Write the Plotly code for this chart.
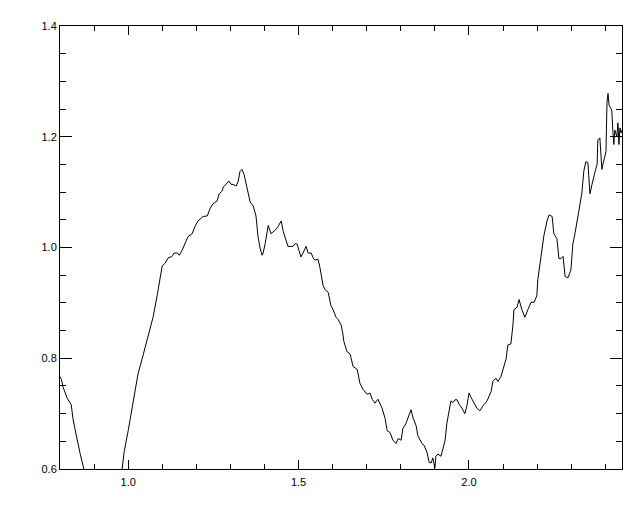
import plotly.graph_objects as go

x_vals = [
    0.800, 0.804, 0.809, 0.815, 0.821, 0.833, 0.838, 0.845, 0.850, 0.859,
    0.868, 0.874, 0.903, 0.933, 0.962, 0.977, 0.982, 0.988, 1.000, 1.012,
    1.021, 1.029, 1.044, 1.056, 1.073, 1.085, 1.094, 1.100, 1.109, 1.117,
    1.129, 1.135, 1.144, 1.150, 1.158, 1.167, 1.176, 1.188, 1.196, 1.205,
    1.220, 1.232, 1.240, 1.249, 1.261, 1.267, 1.276, 1.279, 1.287, 1.296,
    1.302, 1.308, 1.317, 1.323, 1.328, 1.334, 1.340, 1.349, 1.358, 1.367,
    1.375, 1.381, 1.387, 1.393, 1.396, 1.402, 1.408, 1.411, 1.419, 1.431,
    1.440, 1.449, 1.455, 1.463, 1.469, 1.475, 1.484, 1.490, 1.496, 1.501,
    1.507, 1.513, 1.522, 1.528, 1.537, 1.543, 1.548, 1.557, 1.563, 1.572,
    1.578, 1.587, 1.595, 1.601, 1.610, 1.616, 1.625, 1.630, 1.633, 1.642,
    1.651, 1.660, 1.672, 1.680, 1.689, 1.701, 1.710, 1.716, 1.724, 1.733,
    1.745, 1.754, 1.760, 1.768, 1.777, 1.786, 1.792, 1.801, 1.806, 1.815,
    1.821, 1.830, 1.836, 1.845, 1.850, 1.862, 1.868, 1.877, 1.883, 1.889,
    1.894, 1.900, 1.903, 1.909, 1.918, 1.924, 1.930, 1.935, 1.941, 1.947,
    1.953, 1.959, 1.965, 1.971, 1.979, 1.988, 1.994, 2.000, 2.009, 2.018,
    2.023, 2.032, 2.041, 2.053, 2.065, 2.070, 2.079, 2.085, 2.094, 2.100,
    2.109, 2.114, 2.123, 2.129, 2.132, 2.141, 2.147, 2.155, 2.164, 2.173,
    2.182, 2.191, 2.199, 2.202, 2.211, 2.220, 2.229, 2.235, 2.244, 2.249,
    2.258, 2.264, 2.270, 2.276, 2.282, 2.290, 2.299, 2.305, 2.311, 2.320,
    2.331, 2.337, 2.343, 2.349, 2.355, 2.361, 2.364, 2.370, 2.376, 2.378,
    2.384, 2.390, 2.393, 2.399, 2.402, 2.405, 2.408, 2.411, 2.419, 2.422,
    2.425, 2.428, 2.434, 2.437, 2.440, 2.443, 2.446, 2.449,
]

y_vals = [
    0.767, 0.762, 0.748, 0.737, 0.728, 0.716, 0.691, 0.669, 0.652, 0.628,
    0.605, 0.584, 0.527, 0.509, 0.545, 0.580, 0.598, 0.630, 0.669, 0.710,
    0.746, 0.772, 0.806, 0.833, 0.874, 0.913, 0.942, 0.967, 0.972, 0.981,
    0.984, 0.990, 0.990, 0.986, 0.995, 1.007, 1.020, 1.025, 1.038, 1.048,
    1.056, 1.057, 1.070, 1.079, 1.084, 1.097, 1.102, 1.109, 1.114, 1.120,
    1.114, 1.114, 1.111, 1.120, 1.137, 1.141, 1.132, 1.109, 1.082, 1.075,
    1.057, 1.020, 0.999, 0.986, 0.990, 1.007, 1.029, 1.040, 1.025, 1.031,
    1.038, 1.048, 1.029, 1.013, 1.002, 1.002, 1.002, 1.007, 1.006, 0.995,
    0.983, 0.990, 1.002, 0.990, 0.990, 0.981, 0.977, 0.979, 0.963, 0.931,
    0.924, 0.919, 0.895, 0.888, 0.874, 0.870, 0.860, 0.844, 0.830, 0.812,
    0.808, 0.785, 0.780, 0.755, 0.744, 0.735, 0.737, 0.726, 0.719, 0.726,
    0.710, 0.691, 0.669, 0.666, 0.652, 0.646, 0.655, 0.652, 0.673, 0.682,
    0.691, 0.707, 0.692, 0.678, 0.660, 0.646, 0.643, 0.630, 0.612, 0.611,
    0.620, 0.602, 0.623, 0.627, 0.623, 0.637, 0.652, 0.682, 0.705, 0.723,
    0.720, 0.725, 0.725, 0.717, 0.710, 0.700, 0.714, 0.737, 0.726, 0.717,
    0.710, 0.705, 0.714, 0.723, 0.740, 0.758, 0.764, 0.758, 0.767, 0.780,
    0.799, 0.824, 0.826, 0.860, 0.888, 0.892, 0.906, 0.888, 0.874, 0.888,
    0.901, 0.901, 0.913, 0.942, 0.986, 1.022, 1.048, 1.059, 1.056, 1.025,
    1.016, 0.980, 0.980, 0.984, 0.948, 0.945, 0.959, 1.007, 1.025, 1.056,
    1.097, 1.138, 1.155, 1.153, 1.097, 1.114, 1.123, 1.137, 1.150, 1.194,
    1.198, 1.141, 1.150, 1.168, 1.173, 1.262, 1.278, 1.257, 1.248, 1.212,
    1.186, 1.212, 1.200, 1.225, 1.186, 1.216, 1.207, 1.212,
]

x_range = [0.8, 2.449]
y_range = [0.6, 1.4]
x_tickvals = [1.0, 1.5, 2.0]
x_ticktext = ["1.0", "1.5", "2.0"]
y_tickvals = [0.6, 0.8, 1.0, 1.2, 1.4]
y_ticktext = ["0.6", "0.8", "1.0", "1.2", "1.4"]

fig = go.Figure()
fig.add_trace(go.Scatter(
    x=x_vals, y=y_vals, mode="lines",
    line=dict(color="black", width=1),
    showlegend=False, hoverinfo="skip",
))

font = dict(family="Liberation Sans, Arial, sans-serif", size=11, color="black")


def x_axis(**extra):
    d = dict(
        range=x_range, tickmode="array", tickvals=x_tickvals, ticktext=x_ticktext,
        ticks="inside", ticklen=9, tickwidth=1, tickcolor="black",
        showline=True, linecolor="black", linewidth=1,
        showgrid=False, zeroline=False,
        minor=dict(dtick=0.1, tick0=0.0, ticks="inside", ticklen=5,
                   tickwidth=1, tickcolor="black", showgrid=False),
        tickfont=font,
    )
    d.update(extra)
    return d


def y_axis(**extra):
    d = dict(
        range=y_range, tickmode="array", tickvals=y_tickvals, ticktext=y_ticktext,
        ticks="inside", ticklen=12, tickwidth=1, tickcolor="black",
        showline=True, linecolor="black", linewidth=1,
        showgrid=False, zeroline=False,
        minor=dict(dtick=0.05, tick0=0.0, ticks="inside", ticklen=6,
                   tickwidth=1, tickcolor="black", showgrid=False),
        tickfont=font,
    )
    d.update(extra)
    return d


# invisible helper trace on the mirrored axes so they are drawn
fig.add_trace(go.Scatter(
    x=[x_range[0]], y=[y_range[0]], xaxis="x2", yaxis="y2", mode="markers",
    marker=dict(opacity=0), showlegend=False, hoverinfo="skip",
))

fig.update_layout(
    width=640, height=512,
    margin=dict(l=52, r=26, t=12, b=51),
    paper_bgcolor="white", plot_bgcolor="white",
    font=font,
    xaxis=x_axis(ticklabelstandoff=3),
    yaxis=y_axis(),
    xaxis2=x_axis(overlaying="x", side="top", showticklabels=False, anchor="y"),
    yaxis2=y_axis(overlaying="y", side="right", showticklabels=False, anchor="x"),
)

fig.write_html("out.html")
